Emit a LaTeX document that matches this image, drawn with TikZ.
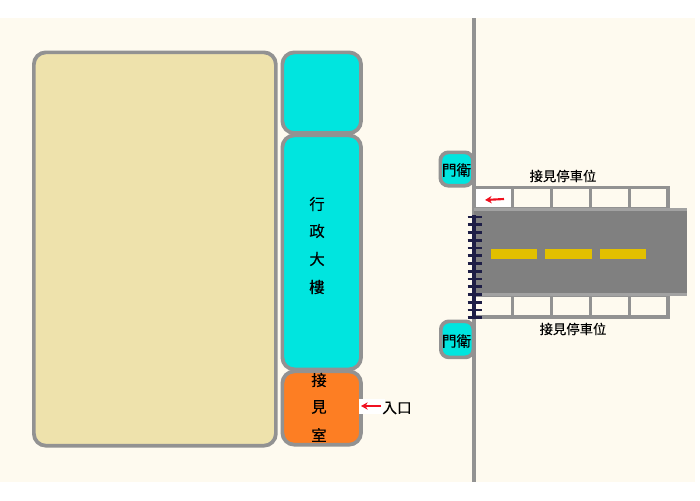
\documentclass[tikz,border=0pt]{standalone}
\usepackage{fontspec}
\usepackage{xcolor}
\setmainfont[FakeBold=0.25]{Noto Sans CJK TC}
\usetikzlibrary{calc,arrows.meta}
\definecolor{ground}{HTML}{FEFAEF}
\definecolor{wall}{HTML}{929292}
\definecolor{sand}{HTML}{EEE2AC}
\definecolor{aqua}{HTML}{00E5DF}
\definecolor{brick}{HTML}{FD7E23}
\definecolor{asphalt}{HTML}{808080}
\definecolor{paint}{HTML}{E2C000}
\definecolor{rail}{HTML}{1E1E46}
\definecolor{mark}{HTML}{F01020}
\tikzset{
  bldg/.style={draw=wall, line width=2.8pt, rounded corners=9pt, inner sep=0pt, anchor=north west},
  guard/.style={bldg, fill=aqua, rounded corners=6pt},
  lab/.style={text=black, font=\fontsize{10}{12}\selectfont, inner sep=0pt},
  biglab/.style={text=black, font=\fontsize{11.5}{13}\selectfont, inner sep=0pt},
  guardlab/.style={text=black, font=\fontsize{11}{13}\selectfont, inner sep=0pt},
  slot/.style={draw=wall, line width=2.3pt},
  redarrow/.style={draw=mark, line width=1.6pt, -{Stealth[length=5pt,width=5.5pt]}},
}
\begin{document}
\begin{tikzpicture}[x=0.75pt,y=-0.75pt]
  \useasboundingbox (0,0) rectangle (700,500);
  \fill[white] (0,0) rectangle (700,500);
  \fill[ground] (0,18) rectangle (695,482);

  % buildings
  \node[bldg, fill=sand, minimum width=181.5pt, minimum height=295pt] (main) at (32,50.5) {};
  \node[bldg, fill=aqua, minimum width=59pt, minimum height=60.5pt] (north) at (280.5,50.5) {};
  \node[bldg, fill=aqua, minimum width=59pt, minimum height=175.5pt] (admin) at (280.5,133.5) {};
  \node[bldg, fill=brick, minimum width=59pt, minimum height=55pt] (visit) at (280.5,369.5) {};
  \node[biglab] at (317,204) {行};
  \node[biglab] at (317,231) {政};
  \node[biglab] at (317,259) {大};
  \node[biglab] at (317,287) {樓};
  \node[biglab] at (319,380) {接};
  \node[biglab] at (319,407) {見};
  \node[biglab] at (319,435) {室};

  % entrance
  \fill[white] (359,399) rectangle (385,414);
  \coordinate (entryfrom) at (381,406);
  \coordinate (entryto) at (361,406);
  \draw[redarrow] (entryfrom) -- (entryto);
  \node[guardlab] (entry) at (397,408) {入口};

  % fence line and road
  \draw[wall, line width=2.4pt] (474,18) -- (474,482);
  \fill[white] (476,188) rectangle (511,208);
  \foreach \x in {0,...,4} {
    \draw[slot] ({474+38.8*\x},187.5) rectangle ({474+38.8*(\x+1)},209);
    \draw[slot] ({474+38.8*\x},295) rectangle ({474+38.8*(\x+1)},317);
  }
  \fill[asphalt] (474,209) rectangle (687,295);
  \draw[wall!85!white, line width=2pt] (474,209.5) -- (687,209.5);
  \draw[wall!85!white, line width=2pt] (474,294.5) -- (687,294.5);
  \foreach \x/\w in {491/46,545/47,600/46} {
    \fill[paint] (\x,249) rectangle ++(\w,10);
  }

  % gate
  \draw[rail, line width=3.2pt] (474,215) -- (474,318);
  \foreach \y in {0,...,13} {
    \draw[rail, line width=2.1pt] (467.5,{217+7.75*\y}) -- (482,{217+7.75*\y});
  }

  % parking arrow
  \coordinate (slotfrom) at (504,199);
  \coordinate (slotto) at (485,200);
  \draw[redarrow] (slotfrom) -- (slotto);
  \node[lab] (parkN) at (563,176) {接見停車位};
  \node[lab] (parkS) at (573,329) {接見停車位};

  % guards
  \node[guard, minimum width=24.4pt, minimum height=25pt] (guardN) at (438.5,150.5) {};
  \node[guard, minimum width=24.4pt, minimum height=27pt] (guardS) at (439,319.5) {};
  \node[guardlab] at (456.5,170) {門衛};
  \node[guardlab] at (456.5,341) {門衛};
\end{tikzpicture}
\end{document}
